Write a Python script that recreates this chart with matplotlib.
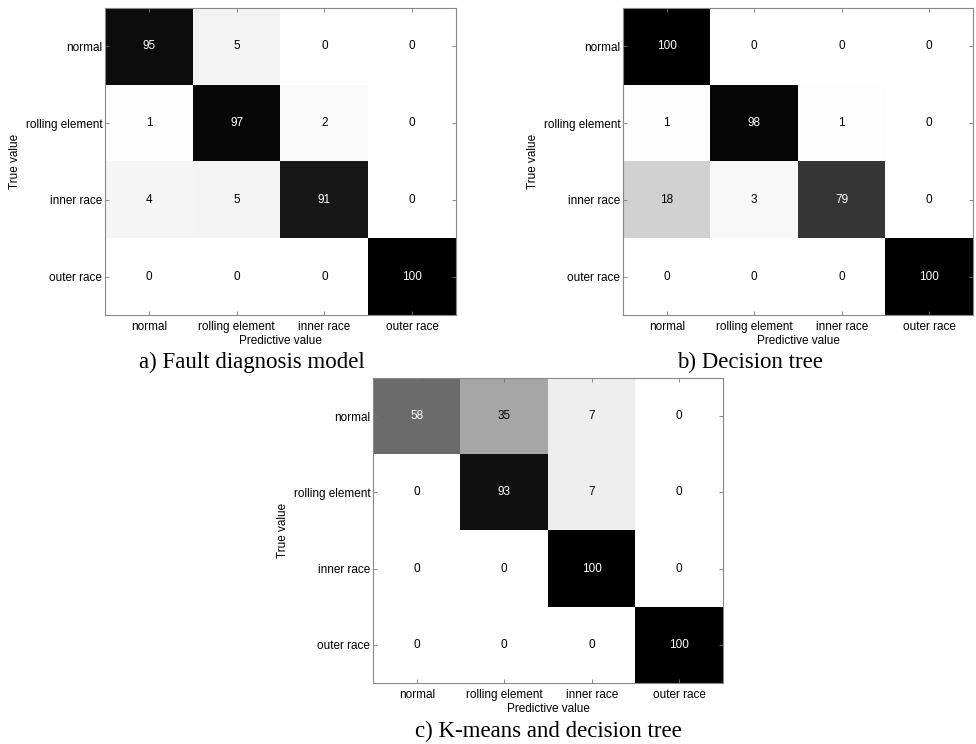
import matplotlib
matplotlib.use('Agg')
import matplotlib.pyplot as plt
import numpy as np

classes = ["normal", "rolling element", "inner race", "outer race"]

cm_model = [[95, 5, 0, 0],
            [1, 97, 2, 0],
            [4, 5, 91, 0],
            [0, 0, 0, 100]]
cm_tree = [[100, 0, 0, 0],
           [1, 98, 1, 0],
           [18, 3, 79, 0],
           [0, 0, 0, 100]]
cm_kmeans = [[58, 35, 7, 0],
             [0, 93, 7, 0],
             [0, 0, 100, 0],
             [0, 0, 0, 100]]

captions = ["a) Fault diagnosis model", "b) Decision tree", "c) K-means and decision tree"]

W, H = 976, 744
fig = plt.figure(figsize=(W / 100, H / 100), dpi=100)
plt.rcParams['font.family'] = 'Liberation Sans'

# axes boxes in pixels: left, top, right, bottom
boxes = [(105, 8, 456, 315), (623, 8, 973, 315), (373, 378, 723, 683)]
# caption centre x and baseline y, pixels
caption_pos = [(252, 368), (750, 368), (548, 737)]


def draw_cm(ax, data):
    m = np.array(data)
    ax.imshow(m, cmap='gray_r', vmin=0, vmax=100, aspect='auto', interpolation='nearest')
    for i in range(m.shape[0]):
        for j in range(m.shape[1]):
            ax.text(j, i, str(m[i, j]), ha='center', va='center', fontsize=8.5,
                    color='white' if m[i, j] > 50 else 'black')
    ax.set_xticks(range(len(classes)))
    ax.set_yticks(range(len(classes)))
    ax.set_xticklabels(classes, fontsize=8.5)
    ax.set_yticklabels(classes, fontsize=8.5)
    ax.tick_params(direction='in', length=3, width=0.6, color='#777777',
                   top=True, right=True)
    ax.tick_params(axis='x', pad=4.5)
    ax.tick_params(axis='y', pad=2)
    for s in ax.spines.values():
        s.set_color('#888888')
        s.set_linewidth(0.8)
    ax.set_xlabel("Predictive value", fontsize=8.5, labelpad=1)
    ax.set_ylabel("True value", fontsize=8.5, labelpad=3)


for box, data, cap, cp in zip(boxes, [cm_model, cm_tree, cm_kmeans], captions, caption_pos):
    l, t, r, b = box
    ax = fig.add_axes([l / W, 1 - b / H, (r - l) / W, (b - t) / H])
    draw_cm(ax, data)
    fig.text(cp[0] / W, 1 - cp[1] / H, cap, ha='center', va='baseline',
             fontsize=16.5, family='Liberation Serif')

fig.savefig("out.png", dpi=100)
